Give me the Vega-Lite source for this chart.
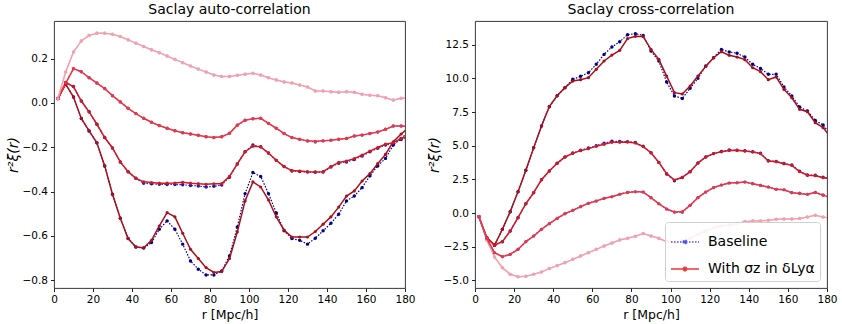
{
"$schema": "https://vega.github.io/schema/vega-lite/v6.json",
"padding": {"left": 5, "top": 2, "right": 5, "bottom": 2},
"spacing": 10,
"config": {
  "font": "DejaVu Sans",
  "view": {"stroke": "#222", "strokeWidth": 0.9},
  "axis": {"domain": false, "grid": false, "tickColor": "#222", "tickSize": 3.5, "labelFontSize": 10.5, "labelColor": "#000", "labelPadding": 3, "titleFontSize": 12.5, "titleFontWeight": "normal", "titleColor": "#000", "labelFlush": false, "labelOverlap": false},
  "title": {"fontSize": 14, "fontWeight": "normal", "color": "#000", "offset": 4},
  "legend": {"labelFontSize": 14, "labelColor": "#000"}
},
"datasets": {"d": [
{"r":2,"w":1,"a":0.02,"ab":0.02,"c":-0.27,"cb":-0.27},
{"r":6,"w":1,"a":0.085,"ab":0.085,"c":-1.83,"cb":-1.83},
{"r":10,"w":1,"a":0.027,"ab":0.027,"c":-2.4,"cb":-2.4},
{"r":14,"w":1,"a":-0.07,"ab":-0.07,"c":-1.21,"cb":-1.21},
{"r":18,"w":1,"a":-0.126,"ab":-0.126,"c":0.1,"cb":0.1},
{"r":22,"w":1,"a":-0.18,"ab":-0.18,"c":1.58,"cb":1.58},
{"r":26,"w":1,"a":-0.284,"ab":-0.284,"c":3.17,"cb":3.17},
{"r":30,"w":1,"a":-0.412,"ab":-0.412,"c":4.85,"cb":4.85},
{"r":34,"w":1,"a":-0.52,"ab":-0.52,"c":6.46,"cb":6.46},
{"r":38,"w":1,"a":-0.612,"ab":-0.612,"c":7.9,"cb":7.9},
{"r":42,"w":1,"a":-0.65,"ab":-0.65,"c":8.71,"cb":8.71},
{"r":46,"w":1,"a":-0.653,"ab":-0.655,"c":9.31,"cb":9.31},
{"r":50,"w":1,"a":-0.62,"ab":-0.63,"c":9.8,"cb":9.93},
{"r":54,"w":1,"a":-0.555,"ab":-0.57,"c":9.9,"cb":10.15},
{"r":58,"w":1,"a":-0.495,"ab":-0.532,"c":10.05,"cb":10.42},
{"r":62,"w":1,"a":-0.514,"ab":-0.57,"c":10.67,"cb":11.04},
{"r":66,"w":1,"a":-0.588,"ab":-0.637,"c":11.29,"cb":11.78},
{"r":70,"w":1,"a":-0.66,"ab":-0.713,"c":11.73,"cb":12.33},
{"r":74,"w":1,"a":-0.702,"ab":-0.75,"c":12.08,"cb":12.72},
{"r":78,"w":1,"a":-0.743,"ab":-0.776,"c":12.95,"cb":13.24},
{"r":82,"w":1,"a":-0.765,"ab":-0.776,"c":13.12,"cb":13.32},
{"r":86,"w":1,"a":-0.761,"ab":-0.758,"c":13.1,"cb":13.19},
{"r":90,"w":1,"a":-0.702,"ab":-0.69,"c":12.15,"cb":12.03},
{"r":94,"w":1,"a":-0.582,"ab":-0.56,"c":11.41,"cb":11.29},
{"r":98,"w":1,"a":-0.442,"ab":-0.409,"c":10.17,"cb":9.73},
{"r":102,"w":1,"a":-0.356,"ab":-0.314,"c":8.94,"cb":8.69},
{"r":106,"w":1,"a":-0.379,"ab":-0.332,"c":8.84,"cb":8.51},
{"r":110,"w":1,"a":-0.438,"ab":-0.409,"c":9.43,"cb":9.26},
{"r":114,"w":1,"a":-0.514,"ab":-0.496,"c":10.17,"cb":10.0},
{"r":118,"w":1,"a":-0.574,"ab":-0.577,"c":10.89,"cb":10.92},
{"r":122,"w":1,"a":-0.605,"ab":-0.612,"c":11.53,"cb":11.53},
{"r":126,"w":1,"a":-0.605,"ab":-0.62,"c":11.98,"cb":12.15},
{"r":130,"w":1,"a":-0.605,"ab":-0.637,"c":11.71,"cb":11.96},
{"r":134,"w":1,"a":-0.58,"ab":-0.61,"c":11.58,"cb":11.86},
{"r":138,"w":1,"a":-0.547,"ab":-0.577,"c":11.39,"cb":11.58},
{"r":142,"w":1,"a":-0.514,"ab":-0.543,"c":10.79,"cb":11.04},
{"r":146,"w":1,"a":-0.47,"ab":-0.502,"c":10.5,"cb":10.74},
{"r":150,"w":1,"a":-0.42,"ab":-0.442,"c":9.9,"cb":10.3},
{"r":154,"w":1,"a":-0.397,"ab":-0.42,"c":10.1,"cb":10.3},
{"r":158,"w":1,"a":-0.352,"ab":-0.382,"c":9.18,"cb":9.36},
{"r":162,"w":1,"a":-0.319,"ab":-0.329,"c":8.56,"cb":8.69},
{"r":166,"w":1,"a":-0.274,"ab":-0.284,"c":7.7,"cb":7.87},
{"r":170,"w":1,"a":-0.232,"ab":-0.25,"c":7.52,"cb":7.57},
{"r":174,"w":1,"a":-0.175,"ab":-0.19,"c":6.71,"cb":6.88},
{"r":178,"w":1,"a":-0.14,"ab":-0.16,"c":6.34,"cb":6.53},
{"r":182,"w":1,"a":-0.11,"ab":-0.13,"c":5.6,"cb":5.8},
{"r":2,"w":2,"a":0.02,"ab":0.02,"c":-0.27,"cb":-0.27},
{"r":6,"w":2,"a":0.092,"ab":0.092,"c":-1.83,"cb":-1.83},
{"r":10,"w":2,"a":0.074,"ab":0.074,"c":-2.38,"cb":-2.38},
{"r":14,"w":2,"a":0.009,"ab":0.009,"c":-2.13,"cb":-2.13},
{"r":18,"w":2,"a":-0.04,"ab":-0.04,"c":-1.34,"cb":-1.34},
{"r":22,"w":2,"a":-0.096,"ab":-0.096,"c":-0.35,"cb":-0.35},
{"r":26,"w":2,"a":-0.156,"ab":-0.156,"c":0.69,"cb":0.69},
{"r":30,"w":2,"a":-0.203,"ab":-0.203,"c":1.51,"cb":1.51},
{"r":34,"w":2,"a":-0.266,"ab":-0.266,"c":2.47,"cb":2.47},
{"r":38,"w":2,"a":-0.31,"ab":-0.31,"c":3.12,"cb":3.12},
{"r":42,"w":2,"a":-0.34,"ab":-0.34,"c":3.69,"cb":3.69},
{"r":46,"w":2,"a":-0.356,"ab":-0.362,"c":4.16,"cb":4.16},
{"r":50,"w":2,"a":-0.359,"ab":-0.365,"c":4.43,"cb":4.45},
{"r":54,"w":2,"a":-0.362,"ab":-0.367,"c":4.63,"cb":4.66},
{"r":58,"w":2,"a":-0.362,"ab":-0.368,"c":4.78,"cb":4.82},
{"r":62,"w":2,"a":-0.361,"ab":-0.368,"c":4.95,"cb":5.0},
{"r":66,"w":2,"a":-0.358,"ab":-0.369,"c":5.1,"cb":5.18},
{"r":70,"w":2,"a":-0.362,"ab":-0.372,"c":5.25,"cb":5.33},
{"r":74,"w":2,"a":-0.364,"ab":-0.375,"c":5.25,"cb":5.32},
{"r":78,"w":2,"a":-0.367,"ab":-0.379,"c":5.27,"cb":5.3},
{"r":82,"w":2,"a":-0.365,"ab":-0.376,"c":5.2,"cb":5.24},
{"r":86,"w":2,"a":-0.364,"ab":-0.37,"c":4.93,"cb":4.95},
{"r":90,"w":2,"a":-0.331,"ab":-0.335,"c":4.48,"cb":4.48},
{"r":94,"w":2,"a":-0.275,"ab":-0.275,"c":3.76,"cb":3.76},
{"r":98,"w":2,"a":-0.22,"ab":-0.22,"c":2.92,"cb":2.9},
{"r":102,"w":2,"a":-0.195,"ab":-0.19,"c":2.45,"cb":2.4},
{"r":106,"w":2,"a":-0.198,"ab":-0.198,"c":2.65,"cb":2.63},
{"r":110,"w":2,"a":-0.226,"ab":-0.226,"c":3.07,"cb":3.07},
{"r":114,"w":2,"a":-0.259,"ab":-0.259,"c":3.71,"cb":3.71},
{"r":118,"w":2,"a":-0.287,"ab":-0.287,"c":4.16,"cb":4.16},
{"r":122,"w":2,"a":-0.305,"ab":-0.307,"c":4.41,"cb":4.41},
{"r":126,"w":2,"a":-0.307,"ab":-0.309,"c":4.55,"cb":4.57},
{"r":130,"w":2,"a":-0.31,"ab":-0.312,"c":4.65,"cb":4.68},
{"r":134,"w":2,"a":-0.311,"ab":-0.313,"c":4.65,"cb":4.67},
{"r":138,"w":2,"a":-0.31,"ab":-0.312,"c":4.6,"cb":4.62},
{"r":142,"w":2,"a":-0.287,"ab":-0.289,"c":4.53,"cb":4.55},
{"r":146,"w":2,"a":-0.268,"ab":-0.272,"c":4.41,"cb":4.43},
{"r":150,"w":2,"a":-0.262,"ab":-0.266,"c":3.86,"cb":3.88},
{"r":154,"w":2,"a":-0.251,"ab":-0.255,"c":3.81,"cb":3.83},
{"r":158,"w":2,"a":-0.235,"ab":-0.239,"c":3.66,"cb":3.68},
{"r":162,"w":2,"a":-0.217,"ab":-0.22,"c":3.54,"cb":3.56},
{"r":166,"w":2,"a":-0.201,"ab":-0.204,"c":3.07,"cb":3.1},
{"r":170,"w":2,"a":-0.186,"ab":-0.19,"c":2.8,"cb":2.82},
{"r":174,"w":2,"a":-0.179,"ab":-0.182,"c":2.77,"cb":2.8},
{"r":178,"w":2,"a":-0.16,"ab":-0.165,"c":2.62,"cb":2.65},
{"r":182,"w":2,"a":-0.15,"ab":-0.155,"c":2.55,"cb":2.58},
{"r":2,"w":3,"a":0.02,"ab":0.02,"c":-0.27,"cb":-0.27},
{"r":6,"w":3,"a":0.09,"ab":0.09,"c":-1.88,"cb":-1.88},
{"r":10,"w":3,"a":0.155,"ab":0.155,"c":-2.95,"cb":-2.95},
{"r":14,"w":3,"a":0.141,"ab":0.141,"c":-3.24,"cb":-3.24},
{"r":18,"w":3,"a":0.114,"ab":0.114,"c":-3.07,"cb":-3.07},
{"r":22,"w":3,"a":0.09,"ab":0.09,"c":-2.7,"cb":-2.7},
{"r":26,"w":3,"a":0.065,"ab":0.065,"c":-2.13,"cb":-2.13},
{"r":30,"w":3,"a":0.033,"ab":0.033,"c":-1.71,"cb":-1.71},
{"r":34,"w":3,"a":0.005,"ab":0.005,"c":-1.21,"cb":-1.21},
{"r":38,"w":3,"a":-0.024,"ab":-0.024,"c":-0.79,"cb":-0.79},
{"r":42,"w":3,"a":-0.048,"ab":-0.048,"c":-0.4,"cb":-0.4},
{"r":46,"w":3,"a":-0.069,"ab":-0.069,"c":-0.05,"cb":-0.05},
{"r":50,"w":3,"a":-0.087,"ab":-0.087,"c":0.2,"cb":0.2},
{"r":54,"w":3,"a":-0.102,"ab":-0.102,"c":0.47,"cb":0.47},
{"r":58,"w":3,"a":-0.114,"ab":-0.114,"c":0.72,"cb":0.72},
{"r":62,"w":3,"a":-0.125,"ab":-0.125,"c":0.89,"cb":0.89},
{"r":66,"w":3,"a":-0.134,"ab":-0.134,"c":1.09,"cb":1.09},
{"r":70,"w":3,"a":-0.14,"ab":-0.14,"c":1.21,"cb":1.21},
{"r":74,"w":3,"a":-0.146,"ab":-0.146,"c":1.39,"cb":1.39},
{"r":78,"w":3,"a":-0.152,"ab":-0.152,"c":1.53,"cb":1.53},
{"r":82,"w":3,"a":-0.156,"ab":-0.156,"c":1.58,"cb":1.58},
{"r":86,"w":3,"a":-0.152,"ab":-0.152,"c":1.56,"cb":1.56},
{"r":90,"w":3,"a":-0.137,"ab":-0.137,"c":1.14,"cb":1.14},
{"r":94,"w":3,"a":-0.1,"ab":-0.1,"c":0.69,"cb":0.69},
{"r":98,"w":3,"a":-0.078,"ab":-0.078,"c":0.3,"cb":0.3},
{"r":102,"w":3,"a":-0.071,"ab":-0.071,"c":0.07,"cb":0.07},
{"r":106,"w":3,"a":-0.069,"ab":-0.069,"c":0.1,"cb":0.05},
{"r":110,"w":3,"a":-0.092,"ab":-0.092,"c":0.57,"cb":0.57},
{"r":114,"w":3,"a":-0.114,"ab":-0.114,"c":1.14,"cb":1.14},
{"r":118,"w":3,"a":-0.138,"ab":-0.138,"c":1.56,"cb":1.56},
{"r":122,"w":3,"a":-0.156,"ab":-0.156,"c":1.88,"cb":1.88},
{"r":126,"w":3,"a":-0.164,"ab":-0.164,"c":2.08,"cb":2.08},
{"r":130,"w":3,"a":-0.171,"ab":-0.172,"c":2.23,"cb":2.23},
{"r":134,"w":3,"a":-0.173,"ab":-0.176,"c":2.25,"cb":2.25},
{"r":138,"w":3,"a":-0.171,"ab":-0.171,"c":2.3,"cb":2.3},
{"r":142,"w":3,"a":-0.168,"ab":-0.168,"c":2.18,"cb":2.18},
{"r":146,"w":3,"a":-0.164,"ab":-0.164,"c":2.05,"cb":2.05},
{"r":150,"w":3,"a":-0.16,"ab":-0.16,"c":1.93,"cb":1.93},
{"r":154,"w":3,"a":-0.149,"ab":-0.149,"c":1.76,"cb":1.76},
{"r":158,"w":3,"a":-0.145,"ab":-0.145,"c":1.73,"cb":1.73},
{"r":162,"w":3,"a":-0.138,"ab":-0.138,"c":1.51,"cb":1.51},
{"r":166,"w":3,"a":-0.131,"ab":-0.131,"c":1.44,"cb":1.48},
{"r":170,"w":3,"a":-0.119,"ab":-0.119,"c":1.39,"cb":1.39},
{"r":174,"w":3,"a":-0.104,"ab":-0.104,"c":1.53,"cb":1.53},
{"r":178,"w":3,"a":-0.104,"ab":-0.104,"c":1.31,"cb":1.35},
{"r":182,"w":3,"a":-0.105,"ab":-0.105,"c":1.15,"cb":1.18},
{"r":2,"w":4,"a":0.02,"ab":0.02,"c":-0.27,"cb":-0.27},
{"r":6,"w":4,"a":0.14,"ab":0.14,"c":-2.0,"cb":-2.0},
{"r":10,"w":4,"a":0.23,"ab":0.23,"c":-3.27,"cb":-3.27},
{"r":14,"w":4,"a":0.28,"ab":0.28,"c":-4.06,"cb":-4.06},
{"r":18,"w":4,"a":0.305,"ab":0.305,"c":-4.55,"cb":-4.55},
{"r":22,"w":4,"a":0.315,"ab":0.315,"c":-4.73,"cb":-4.73},
{"r":26,"w":4,"a":0.315,"ab":0.315,"c":-4.7,"cb":-4.7},
{"r":30,"w":4,"a":0.31,"ab":0.31,"c":-4.55,"cb":-4.55},
{"r":34,"w":4,"a":0.3,"ab":0.3,"c":-4.38,"cb":-4.38},
{"r":38,"w":4,"a":0.285,"ab":0.285,"c":-4.13,"cb":-4.13},
{"r":42,"w":4,"a":0.27,"ab":0.27,"c":-3.91,"cb":-3.91},
{"r":46,"w":4,"a":0.255,"ab":0.255,"c":-3.69,"cb":-3.69},
{"r":50,"w":4,"a":0.24,"ab":0.24,"c":-3.44,"cb":-3.44},
{"r":54,"w":4,"a":0.227,"ab":0.227,"c":-3.19,"cb":-3.19},
{"r":58,"w":4,"a":0.212,"ab":0.212,"c":-2.95,"cb":-2.95},
{"r":62,"w":4,"a":0.197,"ab":0.197,"c":-2.7,"cb":-2.7},
{"r":66,"w":4,"a":0.182,"ab":0.182,"c":-2.45,"cb":-2.45},
{"r":70,"w":4,"a":0.167,"ab":0.167,"c":-2.23,"cb":-2.23},
{"r":74,"w":4,"a":0.153,"ab":0.153,"c":-2.0,"cb":-2.0},
{"r":78,"w":4,"a":0.14,"ab":0.14,"c":-1.88,"cb":-1.88},
{"r":82,"w":4,"a":0.126,"ab":0.126,"c":-1.73,"cb":-1.73},
{"r":86,"w":4,"a":0.12,"ab":0.12,"c":-1.53,"cb":-1.53},
{"r":90,"w":4,"a":0.12,"ab":0.12,"c":-1.71,"cb":-1.71},
{"r":94,"w":4,"a":0.125,"ab":0.125,"c":-1.88,"cb":-1.88},
{"r":98,"w":4,"a":0.13,"ab":0.13,"c":-2.13,"cb":-2.13},
{"r":102,"w":4,"a":0.134,"ab":0.134,"c":-2.15,"cb":-2.15},
{"r":106,"w":4,"a":0.126,"ab":0.126,"c":-2.08,"cb":-2.08},
{"r":110,"w":4,"a":0.114,"ab":0.114,"c":-1.88,"cb":-1.88},
{"r":114,"w":4,"a":0.104,"ab":0.104,"c":-1.58,"cb":-1.58},
{"r":118,"w":4,"a":0.095,"ab":0.095,"c":-1.34,"cb":-1.34},
{"r":122,"w":4,"a":0.09,"ab":0.09,"c":-1.09,"cb":-1.09},
{"r":126,"w":4,"a":0.081,"ab":0.081,"c":-0.97,"cb":-0.97},
{"r":130,"w":4,"a":0.072,"ab":0.072,"c":-0.89,"cb":-0.89},
{"r":134,"w":4,"a":0.054,"ab":0.054,"c":-0.77,"cb":-0.77},
{"r":138,"w":4,"a":0.054,"ab":0.054,"c":-0.64,"cb":-0.64},
{"r":142,"w":4,"a":0.051,"ab":0.051,"c":-0.59,"cb":-0.59},
{"r":146,"w":4,"a":0.048,"ab":0.048,"c":-0.59,"cb":-0.59},
{"r":150,"w":4,"a":0.051,"ab":0.051,"c":-0.54,"cb":-0.54},
{"r":154,"w":4,"a":0.048,"ab":0.048,"c":-0.47,"cb":-0.47},
{"r":158,"w":4,"a":0.039,"ab":0.039,"c":-0.45,"cb":-0.45},
{"r":162,"w":4,"a":0.035,"ab":0.035,"c":-0.45,"cb":-0.45},
{"r":166,"w":4,"a":0.033,"ab":0.033,"c":-0.4,"cb":-0.4},
{"r":170,"w":4,"a":0.024,"ab":0.024,"c":-0.3,"cb":-0.3},
{"r":174,"w":4,"a":0.013,"ab":0.013,"c":-0.17,"cb":-0.17},
{"r":178,"w":4,"a":0.021,"ab":0.021,"c":-0.3,"cb":-0.3},
{"r":182,"w":4,"a":0.023,"ab":0.023,"c":-0.4,"cb":-0.4}
]},
"hconcat": [
{
  "width": 351, "height": 267,
  "title": "Saclay auto-correlation",
  "data": {"name": "d"},
  "encoding": {
    "x": {"field": "r", "type": "quantitative", "scale": {"domain": [0, 180], "nice": false}, "axis": {"values": [0,20,40,60,80,100,120,140,160,180], "tickCount": 20, "title": "r [Mpc/h]", "titlePadding": 3, "labelOverlap": false}}
  },
  "layer": [
    {"mark": {"type": "line", "clip": true, "strokeWidth": 1.2, "strokeDash": [1.5, 1.5], "point": {"size": 12, "filled": true, "clip": true}},
     "encoding": {
       "y": {"field": "ab", "type": "quantitative", "scale": {"domain": [-0.835, 0.37], "nice": false, "zero": false}, "axis": {"values": [-0.8,-0.6,-0.4,-0.2,0,0.2], "tickCount": 20, "format": ".1f", "labelOverlap": false, "title": "r²ξ(r)", "titleFontStyle": "italic", "titleFontSize": 14, "titlePadding": 2}},
       "color": {"field": "w", "type": "nominal", "scale": {"domain": [1,2,3,4], "range": ["#00008b", "#1818c0", "#5050f0", "#b4b4ff"]}, "legend": null}
     }},
    {"mark": {"type": "line", "clip": true, "strokeWidth": 1.5, "point": {"size": 10, "filled": true, "clip": true}},
     "encoding": {
       "y": {"field": "a", "type": "quantitative", "title": "r²ξ(r)"},
       "color": {"field": "w", "type": "nominal", "scale": {"domain": [1,2,3,4], "range": ["#a8101c", "#d41820", "#f2353d", "#f8a0a6"]}, "legend": null}
     }}
  ],
  "resolve": {"scale": {"color": "independent"}}
},
{
  "width": 352, "height": 267,
  "title": "Saclay cross-correlation",
  "data": {"name": "d"},
  "encoding": {
    "x": {"field": "r", "type": "quantitative", "scale": {"domain": [0, 180], "nice": false}, "axis": {"values": [0,20,40,60,80,100,120,140,160,180], "tickCount": 20, "title": "r [Mpc/h]", "titlePadding": 3, "labelOverlap": false}}
  },
  "layer": [
    {"transform": [{"filter": "datum.w != 3"}],
     "mark": {"type": "line", "clip": true, "strokeWidth": 1.2, "strokeDash": [1.5, 1.5], "point": {"size": 12, "filled": true, "clip": true}},
     "encoding": {
       "y": {"field": "cb", "type": "quantitative", "scale": {"domain": [-5.57, 14.26], "nice": false, "zero": false}, "axis": {"values": [-5,-2.5,0,2.5,5,7.5,10,12.5], "tickCount": 20, "format": ".1f", "labelOverlap": false, "title": "r²ξ(r)", "titleFontStyle": "italic", "titleFontSize": 14, "titlePadding": 2}},
       "color": {"field": "w", "type": "nominal", "scale": {"domain": [1,2,3,4], "range": ["#00008b", "#1818c0", "#5050f0", "#b4b4ff"]}, "legend": null}
     }},
    {"transform": [{"filter": "datum.w != 3"}],
     "mark": {"type": "line", "clip": true, "strokeWidth": 1.5, "point": {"size": 10, "filled": true, "clip": true}},
     "encoding": {
       "y": {"field": "c", "type": "quantitative", "title": "r²ξ(r)"},
       "color": {"field": "w", "type": "nominal", "scale": {"domain": [1,2,3,4], "range": ["#a8101c", "#d41820", "#f2353d", "#f8a0a6"]}, "legend": null}
     }},
    {"transform": [{"filter": "datum.w == 3"}, {"fold": ["cb", "c"], "as": ["key", "v"]}],
     "mark": {"type": "line", "clip": true, "strokeWidth": 1.5, "point": {"size": 10, "filled": true, "clip": true}},
     "encoding": {
       "y": {"field": "v", "type": "quantitative", "title": "r²ξ(r)"},
       "strokeDash": {"field": "key", "type": "nominal", "scale": {"domain": ["cb", "c"], "range": [[1.5, 1.5], [1, 0]]}, "legend": null},
       "color": {"field": "key", "type": "nominal", "scale": {"domain": ["cb", "c"], "range": ["#5050f0", "#f2353d"]},
         "legend": {"title": null, "orient": "bottom-right", "offset": 7, "symbolType": "M-1,0H1M-0.12,0a0.12,0.12 0 1,1 0.24,0a0.12,0.12 0 1,1 -0.24,0", "symbolSize": 784, "symbolStrokeWidth": 1.6, "labelFontSize": 14, "rowPadding": 5, "padding": 5, "fillColor": "rgba(255,255,255,0.85)", "strokeColor": "#d0d0d0", "cornerRadius": 3, "labelOffset": 8,
           "labelExpr": "datum.label == 'cb' ? 'Baseline' : 'With σz in δLyα'",
           "encode": {"symbols": {"update": {"strokeDash": {"signal": "datum.value == 'cb' ? [1.5, 1.5] : [1, 0]"}, "fill": {"signal": "datum.value == 'cb' ? '#5050f0' : '#f2353d'"}, "fillOpacity": {"value": 1}}}}}}
     }}
  ],
  "resolve": {"scale": {"color": "independent"}}
}
]
}
